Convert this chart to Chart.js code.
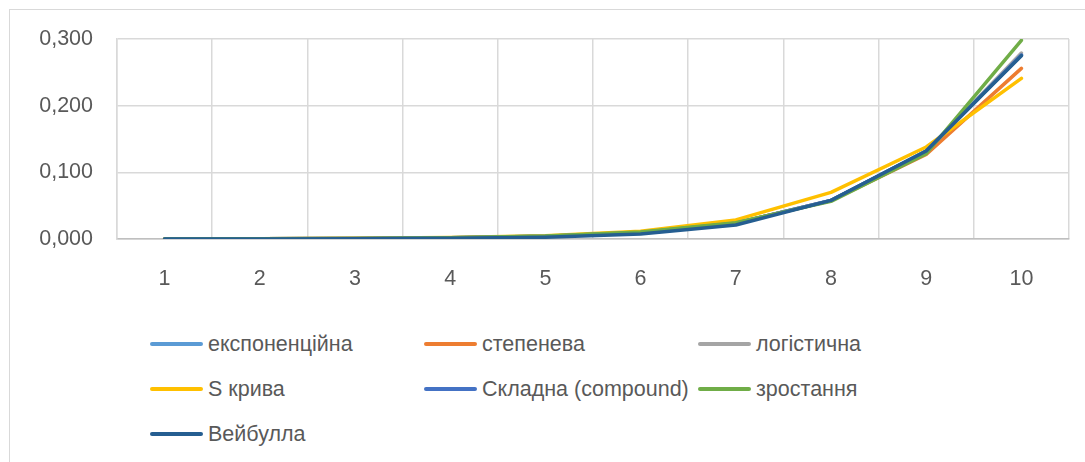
<!DOCTYPE html>
<html>
<head>
<meta charset="utf-8">
<script src="https://cdn.jsdelivr.net/npm/chart.js@4.4.0/dist/chart.umd.min.js"></script>
<style>
  html, body { margin: 0; padding: 0; background: #fff; }
  #page { position: relative; width: 1085px; height: 462px; overflow: hidden; background: #fff; }
  #frame { position: absolute; left: 9px; top: 9px; width: 1100px; height: 480px; border: 1.5px solid #D9D9D9; box-sizing: border-box; }
  #box { position: absolute; left: 0; top: 0; width: 1085px; height: 300px; }
  #legend { position: absolute; left: 0; top: 0; }
  .item { position: absolute; height: 30px; display: flex; align-items: center; white-space: nowrap;
          font-family: 'Liberation Sans', Arial, sans-serif; font-size: 21.5px; color: #595959; }
  .swatch { width: 53px; height: 4px; border-radius: 2px; margin-right: 5px; }
</style>
</head>
<body>
<div id="page">
  <div id="frame"></div>
  <div id="box"><canvas id="chart"></canvas></div>
  <div id="legend"></div>
</div>
<script>
// категорії та значення моделей
const categories = ['1', '2', '3', '4', '5', '6', '7', '8', '9', '10'];
const seriesNames = ['експоненційна', 'степенева', 'логістична', 'S крива', 'Складна (compound)', 'зростання', 'Вейбулла'];
const expValues      = [0.0001, 0.0003, 0.0007, 0.0017, 0.0040, 0.0098, 0.0238, 0.0578, 0.1320, 0.2760];
const powerValues    = [0.0000, 0.0002, 0.0006, 0.0016, 0.0039, 0.0096, 0.0236, 0.0575, 0.1270, 0.2560];
const logisticValues = [0.0001, 0.0003, 0.0007, 0.0017, 0.0040, 0.0098, 0.0238, 0.0578, 0.1310, 0.2790];
const sCurveValues   = [0.0002, 0.0005, 0.0010, 0.0022, 0.0050, 0.0118, 0.0286, 0.0700, 0.1380, 0.2410];
const compoundValues = [0.0001, 0.0003, 0.0007, 0.0017, 0.0040, 0.0098, 0.0238, 0.0578, 0.1320, 0.2760];
const growthValues   = [0.0001, 0.0003, 0.0008, 0.0019, 0.0045, 0.0105, 0.0245, 0.0565, 0.1280, 0.2980];
const weibullValues  = [0.0000, 0.0001, 0.0003, 0.0010, 0.0028, 0.0075, 0.0210, 0.0580, 0.1320, 0.2750];
const yTicks = [0, 0.1, 0.2, 0.3];

const allValues = [expValues, powerValues, logisticValues, sCurveValues, compoundValues, growthValues, weibullValues];
const colors = ['#5B9BD5', '#ED7D31', '#A5A5A5', '#FFC000', '#4472C4', '#70AD47', '#255E91'];

Chart.defaults.font.family = "'Liberation Sans', Arial, sans-serif";
Chart.defaults.font.size = 21.5;
Chart.defaults.color = '#595959';

const datasets = allValues.map((vals, i) => ({
    label: seriesNames[i],
    data: vals,
    borderColor: colors[i],
    backgroundColor: colors[i],
    borderWidth: 3.5,
    borderCapStyle: 'round',
    borderJoinStyle: 'round',
    pointRadius: 0,
    tension: 0,
    fill: false,
    order: allValues.length - 1 - i   // як в Excel: остання серія зверху
}));

const ctx = document.getElementById('chart').getContext('2d');
new Chart(ctx, {
    type: 'line',
    data: { labels: categories, datasets: datasets },
    options: {
        responsive: true,
        maintainAspectRatio: false,
        animation: false,
        layout: { padding: { left: 0, top: 39, right: 16, bottom: 0 } },
        plugins: {
            legend: { display: false },
            tooltip: { enabled: false }
        },
        scales: {
            x: {
                offset: true,
                grid: { color: '#D9D9D9', lineWidth: 1.5, offset: true, drawTicks: false },
                border: { color: '#BFBFBF', width: 1.5 },
                ticks: { padding: 27 },
                afterFit: (scale) => { scale.height = 61; }
            },
            y: {
                min: 0,
                max: 0.3,
                afterBuildTicks: (scale) => { scale.ticks = yTicks.map(v => ({ value: v })); },
                grid: { color: '#D9D9D9', lineWidth: 1.5, drawTicks: false },
                border: { color: '#D9D9D9', width: 1.5 },
                ticks: {
                    padding: 24,
                    callback: (v) => v.toFixed(3).replace('.', ',')
                },
                afterFit: (scale) => { scale.width = 117; }
            }
        }
    }
});

// легенда в три колонки, як в Excel
const legendCols = [150, 424, 698];
const legendRows = [344, 389, 434];
const legendEl = document.getElementById('legend');
seriesNames.forEach((name, i) => {
    const item = document.createElement('div');
    item.className = 'item';
    item.style.left = legendCols[i % 3] + 'px';
    item.style.top = (legendRows[Math.floor(i / 3)] - 15) + 'px';
    const sw = document.createElement('span');
    sw.className = 'swatch';
    sw.style.background = colors[i];
    const txt = document.createElement('span');
    txt.textContent = name;
    item.appendChild(sw);
    item.appendChild(txt);
    legendEl.appendChild(item);
});
</script>
</body>
</html>
